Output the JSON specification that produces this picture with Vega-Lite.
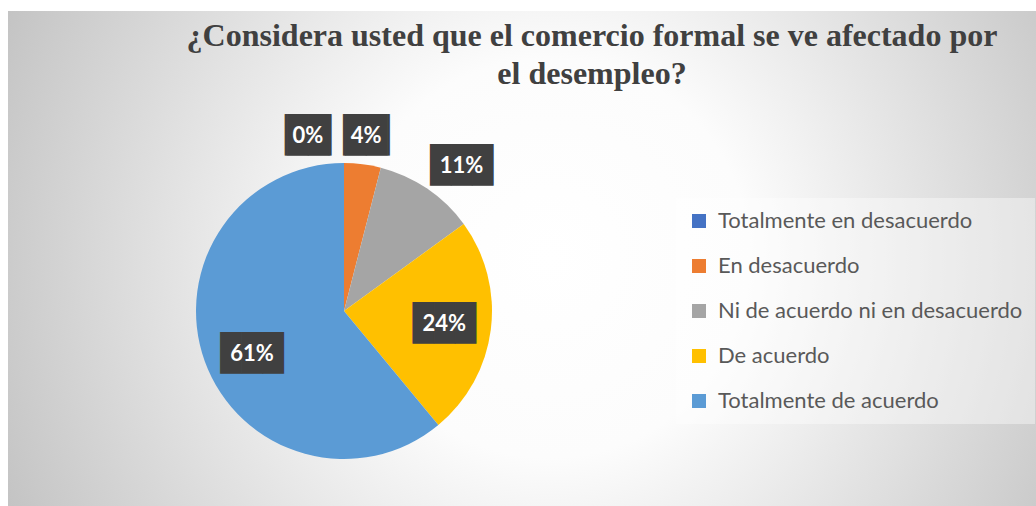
{
  "$schema": "https://vega.github.io/schema/vega-lite/v6.json",
  "padding": {"left": 8, "top": 11, "right": 0, "bottom": 0},
  "background": "#ffffff",
  "spacing": 0,
  "config": {"view": {"stroke": null}, "concat": {"spacing": 0}},
  "title": {
    "text": ["¿Considera usted que el comercio formal se ve afectado por", "el desempleo?"],
    "font": "Liberation Serif",
    "fontSize": 32,
    "fontWeight": "bold",
    "color": "#404040",
    "anchor": "middle",
    "frame": "bounds",
    "dx": 70,
    "lineHeight": 38,
    "offset": -105,
    "baseline": "alphabetic"
  },
  "data": {
    "values": [
      {"orden": 1, "categoria": "Totalmente en desacuerdo", "porcentaje": 0.0},
      {"orden": 2, "categoria": "En desacuerdo", "porcentaje": 0.04},
      {"orden": 3, "categoria": "Ni de acuerdo ni en desacuerdo", "porcentaje": 0.11},
      {"orden": 4, "categoria": "De acuerdo", "porcentaje": 0.24},
      {"orden": 5, "categoria": "Totalmente de acuerdo", "porcentaje": 0.61}
    ]
  },
  "vconcat": [
    {
      "width": 1028,
      "height": 105,
      "view": {
        "stroke": null,
        "fill": {
          "gradient": "radial",
          "x1": 0.5272, "y1": 0.6892, "r1": 0,
          "x2": 0.5272, "y2": 0.6892, "r2": 0.5837,
          "stops": [
            {"offset": 0, "color": "#ffffff"},
            {"offset": 0.333, "color": "#fcfcfc"},
            {"offset": 0.933, "color": "#c9c9c9"},
            {"offset": 1, "color": "#c3c3c3"}
          ]
        }
      },
      "data": {"values": []},
      "mark": "rule",
      "encoding": {}
    },
    {
      "spacing": 0,
      "hconcat": [
        {
          "width": 672,
          "height": 390,
          "view": {
            "stroke": null,
            "fill": {
              "gradient": "radial",
              "x1": 0.8065, "y1": 0.4211, "r1": 0,
              "x2": 0.8065, "y2": 0.4211, "r2": 0.8929,
              "stops": [
                {"offset": 0, "color": "#ffffff"},
                {"offset": 0.333, "color": "#fcfcfc"},
                {"offset": 0.933, "color": "#c9c9c9"},
                {"offset": 1, "color": "#c3c3c3"}
              ]
            }
          },
          "encoding": {
            "theta": {"field": "porcentaje", "type": "quantitative", "stack": true},
            "order": {"field": "orden", "type": "quantitative"}
          },
          "layer": [
            {
              "mark": {"type": "arc", "outerRadius": 148, "stroke": null},
              "encoding": {
                "color": {
                  "field": "categoria",
                  "type": "nominal",
                  "scale": {
                    "domain": ["Totalmente en desacuerdo", "En desacuerdo", "Ni de acuerdo ni en desacuerdo", "De acuerdo", "Totalmente de acuerdo"],
                    "range": ["#4472C4", "#ED7D31", "#A5A5A5", "#FFC000", "#5B9BD5"]
                  },
                  "legend": {
                    "title": null,
                    "orient": "none",
                    "direction": "vertical",
                    "legendX": 668,
                    "legendY": 187,
                    "symbolType": "square",
                    "symbolSize": 196,
                    "symbolStrokeWidth": 0,
                    "labelFont": "Lato",
                    "labelFontSize": 22,
                    "labelColor": "#595959",
                    "labelOffset": 8,
                    "labelLimit": 400,
                    "rowPadding": 23,
                    "padding": 12,
                    "fillColor": "rgba(255,255,255,0.4)"
                  }
                }
              }
            },
            {
              "mark": {
                "type": "text",
                "font": "DejaVu Sans Mono",
                "fontSize": 35,
                "fill": "#404040",
                "baseline": "middle",
                "align": "center",
                "radius": {"expr": "datum.porcentaje < 0.02 ? 175 : datum.porcentaje < 0.05 ? 176 : datum.porcentaje < 0.2 ? 186 : 101"},
                "dx": {"expr": "datum.porcentaje < 0.02 ? -36 : datum.porcentaje < 0.05 ? 0 : datum.porcentaje < 0.2 ? 13 : datum.porcentaje > 0.5 ? 3 : 0"},
                "dy": {"expr": "datum.porcentaje > 0.05 && datum.porcentaje < 0.2 ? 9 : datum.porcentaje > 0.5 ? 9 : 0"}
              },
              "encoding": {
                "text": {"condition": {"test": "datum.porcentaje < 0.1", "value": "▕██▏"}, "value": "███"}
              }
            },
            {
              "mark": {
                "type": "text",
                "font": "Lato",
                "fontSize": 22,
                "fontWeight": "bold",
                "fill": "#ffffff",
                "baseline": "middle",
                "align": "center",
                "radius": {"expr": "datum.porcentaje < 0.02 ? 175 : datum.porcentaje < 0.05 ? 176 : datum.porcentaje < 0.2 ? 186 : 101"},
                "dx": {"expr": "datum.porcentaje < 0.02 ? -36 : datum.porcentaje < 0.05 ? 0 : datum.porcentaje < 0.2 ? 13 : datum.porcentaje > 0.5 ? 3 : 0"},
                "dy": {"expr": "datum.porcentaje > 0.05 && datum.porcentaje < 0.2 ? 9 : datum.porcentaje > 0.5 ? 9 : 0"}
              },
              "encoding": {
                "text": {"field": "porcentaje", "type": "quantitative", "format": ".0%"}
              }
            }
          ]
        },
        {
          "width": 356,
          "height": 390,
          "view": {
            "stroke": null,
            "fill": {
              "gradient": "radial",
              "x1": -0.2897, "y1": 0.3641, "r1": 0,
              "x2": -0.2897, "y2": 0.3641, "r2": 1.5385,
              "stops": [
                {"offset": 0, "color": "#ffffff"},
                {"offset": 0.333, "color": "#fcfcfc"},
                {"offset": 0.933, "color": "#c9c9c9"},
                {"offset": 1, "color": "#c3c3c3"}
              ]
            }
          },
          "data": {"values": []},
          "mark": "rule",
          "encoding": {}
        }
      ]
    }
  ]
}
